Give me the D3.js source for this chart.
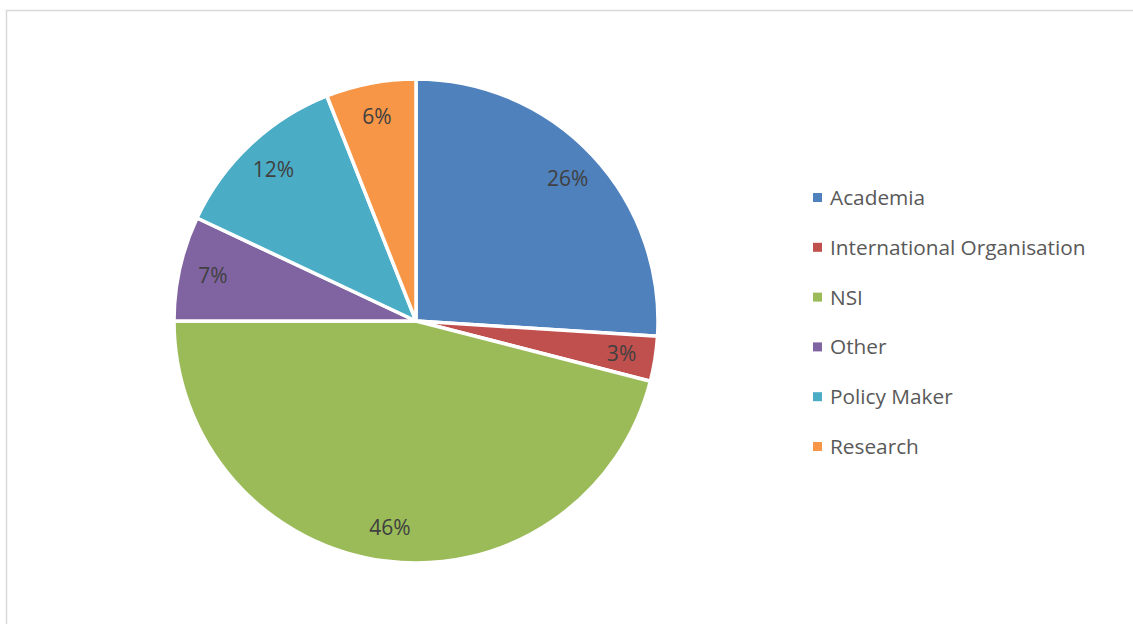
<!DOCTYPE html>
<html>
<head>
    <title>Pie Chart</title>
    <script src="https://d3js.org/d3.v7.min.js"></script>
    <style>
        body { margin: 0; background: #fff; }
    </style>
</head>
<body>

<script>
const categories = ['Academia', 'International Organisation', 'NSI', 'Other', 'Policy Maker', 'Research'];
const shares = [26, 3, 46, 7, 12, 6];
const colours = ['#4F81BD', '#C0504D', '#9BBB59', '#8064A2', '#4BACC6', '#F79646'];

const width = 1133;
const height = 624;
const fontFamily = '"Open Sans", sans-serif';

const svg = d3.select('body')
    .append('svg')
    .attr('width', width)
    .attr('height', height);

// chart area frame
svg.append('rect')
    .attr('x', 6.5)
    .attr('y', 10.5)
    .attr('width', 1200)
    .attr('height', 700)
    .attr('fill', '#fff')
    .attr('stroke', '#d9d9d9')
    .attr('stroke-width', 1.5);

const radius = 242;
const g = svg.append('g')
    .attr('transform', 'translate(416,321)');

const colorScale = d3.scaleOrdinal()
    .domain(categories)
    .range(colours);

const pie = d3.pie().sort(null).value((d, i) => shares[i]);
const arcData = pie(categories);

const arc = d3.arc()
    .innerRadius(0)
    .outerRadius(radius);

// labels sit about 86% of the way out
const labelArc = d3.arc()
    .innerRadius(radius * 0.86)
    .outerRadius(radius * 0.86);

const total = d3.sum(shares);

g.selectAll('path')
    .data(arcData)
    .enter()
    .append('path')
    .attr('d', arc)
    .attr('fill', d => colorScale(d.data))
    .attr('stroke', '#fff')
    .attr('stroke-width', 3.5)
    .attr('stroke-linejoin', 'round');

g.selectAll('text')
    .data(arcData)
    .enter()
    .append('text')
    .attr('transform', d => `translate(${labelArc.centroid(d)})`)
    .attr('text-anchor', 'middle')
    .attr('dy', '0.36em')
    .attr('font-family', fontFamily)
    .attr('font-size', 21)
    .attr('fill', '#404040')
    .text(d => `${Math.round(d.value / total * 100)}%`);

// legend
const legendY = d3.scalePoint()
    .domain(categories)
    .range([197.5, 446.5]);

const legend = svg.append('g')
    .selectAll('g')
    .data(categories)
    .enter()
    .append('g')
    .attr('transform', d => `translate(813,${legendY(d)})`);

legend.append('rect')
    .attr('x', 0)
    .attr('y', -4.5)
    .attr('width', 9)
    .attr('height', 9)
    .attr('fill', d => colorScale(d));

legend.append('text')
    .attr('x', 17)
    .attr('dy', '0.36em')
    .attr('font-family', fontFamily)
    .attr('font-size', 20.8)
    .attr('fill', '#595959')
    .text(d => d);
</script>

</body>
</html>
